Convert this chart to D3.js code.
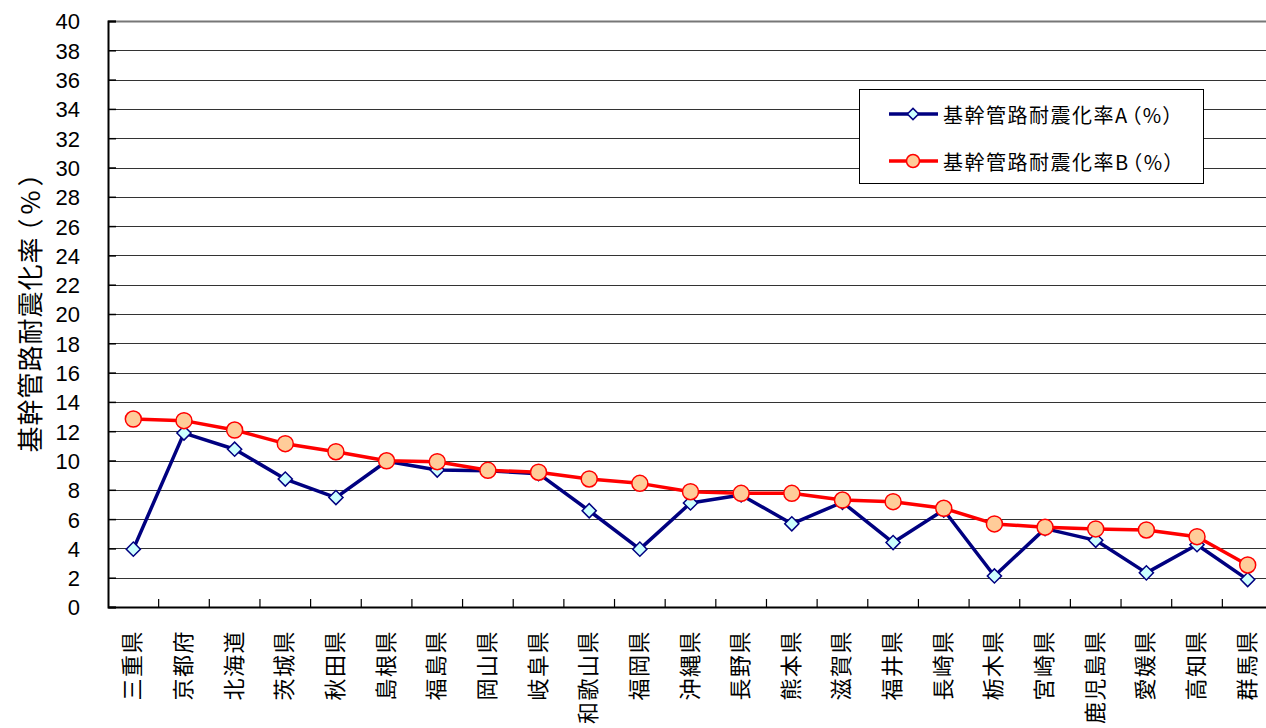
<!DOCTYPE html>
<html>
<head>
<meta charset="utf-8">
<script src="https://cdn.jsdelivr.net/npm/d3@7"></script>
<style>
  html, body { margin: 0; padding: 0; background: #fff; }
  svg { display: block; }
</style>
</head>
<body>
<svg id="chart" width="1266" height="728"></svg>
<script>
const categories = ["三重県","京都府","北海道","茨城県","秋田県","島根県","福島県","岡山県","岐阜県","和歌山県","福岡県","沖縄県","長野県","熊本県","滋賀県","福井県","長崎県","栃木県","宮崎県","鹿児島県","愛媛県","高知県","群馬県"];
const seriesA = [3.95, 11.87, 10.77, 8.73, 7.47, 9.95, 9.35, 9.3, 9.1, 6.57, 3.95, 7.1, 7.65, 5.68, 7.15, 4.4, 6.62, 2.12, 5.35, 4.55, 2.33, 4.25, 1.87];
const seriesB = [12.83, 12.72, 12.08, 11.15, 10.6, 9.98, 9.92, 9.33, 9.2, 8.74, 8.44, 7.87, 7.76, 7.76, 7.3, 7.19, 6.74, 5.67, 5.45, 5.33, 5.26, 4.8, 2.87];
const seriesNames = ["基幹管路耐震化率A（%）", "基幹管路耐震化率B（%）"];
const yTicks = d3.range(0, 41, 2);
const yTitle = "基幹管路耐震化率（%）";

(function () {
const svg = d3.select("#chart");
const mLeft = 108, mRight = 1273, mTop = 21, mBottom = 607;
const latin = "'Liberation Sans', Arial, 'Noto Sans CJK JP', sans-serif";
const cjk = "'Noto Sans CJK JP', 'Liberation Sans', sans-serif";

const x = d3.scaleBand().domain(categories).range([mLeft, mRight]).padding(0);
const y = d3.scaleLinear().domain([0, 40]).range([mBottom, mTop]);

// gridlines
svg.append("g").selectAll("line").data(yTicks.filter(d => d > 0)).join("line")
  .attr("x1", mLeft).attr("x2", mRight)
  .attr("y1", d => Math.round(y(d)) + 0.5).attr("y2", d => Math.round(y(d)) + 0.5)
  .attr("stroke", d => d === 40 ? "#777" : "#333").attr("stroke-width", d => d === 40 ? 2 : 1);

// y axis
const yAxis = d3.axisLeft(y).tickValues(yTicks).tickSize(-8).tickPadding(30);
const gy = svg.append("g").attr("transform", `translate(${mLeft},0)`).call(yAxis);
gy.select(".domain").attr("stroke", "#000").attr("stroke-width", 2);
gy.selectAll(".tick line").attr("stroke", "#000").attr("stroke-width", 1.5);
gy.selectAll(".tick text").attr("font-family", latin).attr("font-size", 22).attr("fill", "#000")
  .attr("dy", "0.36em").attr("x", -28);

// x axis
const xAxis = d3.axisBottom(x).tickSize(0).tickFormat("");
const gx = svg.append("g").attr("transform", `translate(0,${mBottom})`).call(xAxis);
gx.select(".domain").attr("stroke", "#000").attr("stroke-width", 2);
svg.append("g").selectAll("line").data(categories.slice(1)).join("line")
  .attr("x1", d => x(d)).attr("x2", d => x(d))
  .attr("y1", mBottom).attr("y2", mBottom - 8)
  .attr("stroke", "#000").attr("stroke-width", 1.2);

// category labels
svg.append("g").selectAll("text").data(categories).join("text")
  .attr("transform", d => `translate(${x(d) + x.bandwidth() / 2 - 3},630) rotate(-90)`)
  .attr("text-anchor", "end").attr("dominant-baseline", "central")
  .attr("font-family", cjk).attr("font-size", 22).attr("letter-spacing", 1.5).attr("fill", "#000")
  .text(d => d);

// y title
const kt = yTitle.indexOf("（");
const tt = svg.append("text")
  .attr("transform", "translate(28,310) rotate(-90)")
  .attr("text-anchor", "middle").attr("dominant-baseline", "central")
  .attr("font-family", cjk).attr("font-size", 26).attr("fill", "#000");
tt.append("tspan").attr("letter-spacing", 1).text(yTitle.slice(0, kt));
tt.append("tspan").attr("dx", 4).style("font-feature-settings", "'palt'").attr("letter-spacing", 5).text(yTitle.slice(kt));

const cx = d => x(d) + x.bandwidth() / 2;
const line = d3.line().x(d => cx(d[0])).y(d => y(d[1]));
const dataA = categories.map((c, i) => [c, seriesA[i]]);
const dataB = categories.map((c, i) => [c, seriesB[i]]);

const diamond = d3.symbol().type(d3.symbolSquare).size(100);

function drawA(g) {
  g.append("path").datum(dataA).attr("d", line).attr("fill", "none")
    .attr("stroke", "#000080").attr("stroke-width", 3.5).attr("stroke-linejoin", "round");
  g.selectAll("path.m").data(dataA).join("path").attr("class", "m")
    .attr("d", diamond)
    .attr("transform", d => `translate(${cx(d[0])},${y(d[1])}) rotate(45)`)
    .attr("fill", "#ccffff").attr("stroke", "#000080").attr("stroke-width", 1.5);
}
function drawB(g) {
  g.append("path").datum(dataB).attr("d", line).attr("fill", "none")
    .attr("stroke", "#ff0000").attr("stroke-width", 3.5).attr("stroke-linejoin", "round");
  g.selectAll("circle").data(dataB).join("circle")
    .attr("cx", d => cx(d[0])).attr("cy", d => y(d[1])).attr("r", 8)
    .attr("fill", "#ffcc99").attr("stroke", "#ff0000").attr("stroke-width", 1.5);
}
drawA(svg.append("g"));
drawB(svg.append("g"));

// legend
const lg = svg.append("g");
lg.append("rect").attr("x", 859.5).attr("y", 89.5).attr("width", 344).attr("height", 94)
  .attr("fill", "#fff").attr("stroke", "#000").attr("stroke-width", 1);
const rows = [114, 161];
[0, 1].forEach(i => {
  const ry = rows[i];
  const col = i === 0 ? "#000080" : "#ff0000";
  lg.append("line").attr("x1", 889).attr("x2", 938).attr("y1", ry).attr("y2", ry)
    .attr("stroke", col).attr("stroke-width", 3.5);
  if (i === 0) {
    lg.append("path").attr("d", d3.symbol().type(d3.symbolSquare).size(64))
      .attr("transform", `translate(913,${ry}) rotate(45)`)
      .attr("fill", "#ccffff").attr("stroke", "#000080").attr("stroke-width", 1.5);
  } else {
    lg.append("circle").attr("cx", 913).attr("cy", ry).attr("r", 6.5)
      .attr("fill", "#ffcc99").attr("stroke", "#ff0000").attr("stroke-width", 1.5);
  }
  const name = seriesNames[i];
  const k = name.indexOf("（");
  const t = lg.append("text").attr("x", 943).attr("y", ry).attr("dominant-baseline", "central")
    .attr("font-family", cjk).attr("font-size", 20).attr("fill", "#000");
  t.append("tspan").attr("letter-spacing", 1.5).text(name.slice(0, k));
  t.append("tspan").attr("dx", 2).style("font-feature-settings", "'palt'").attr("letter-spacing", 2).text(name.slice(k));
});
})();
</script>
</body>
</html>
